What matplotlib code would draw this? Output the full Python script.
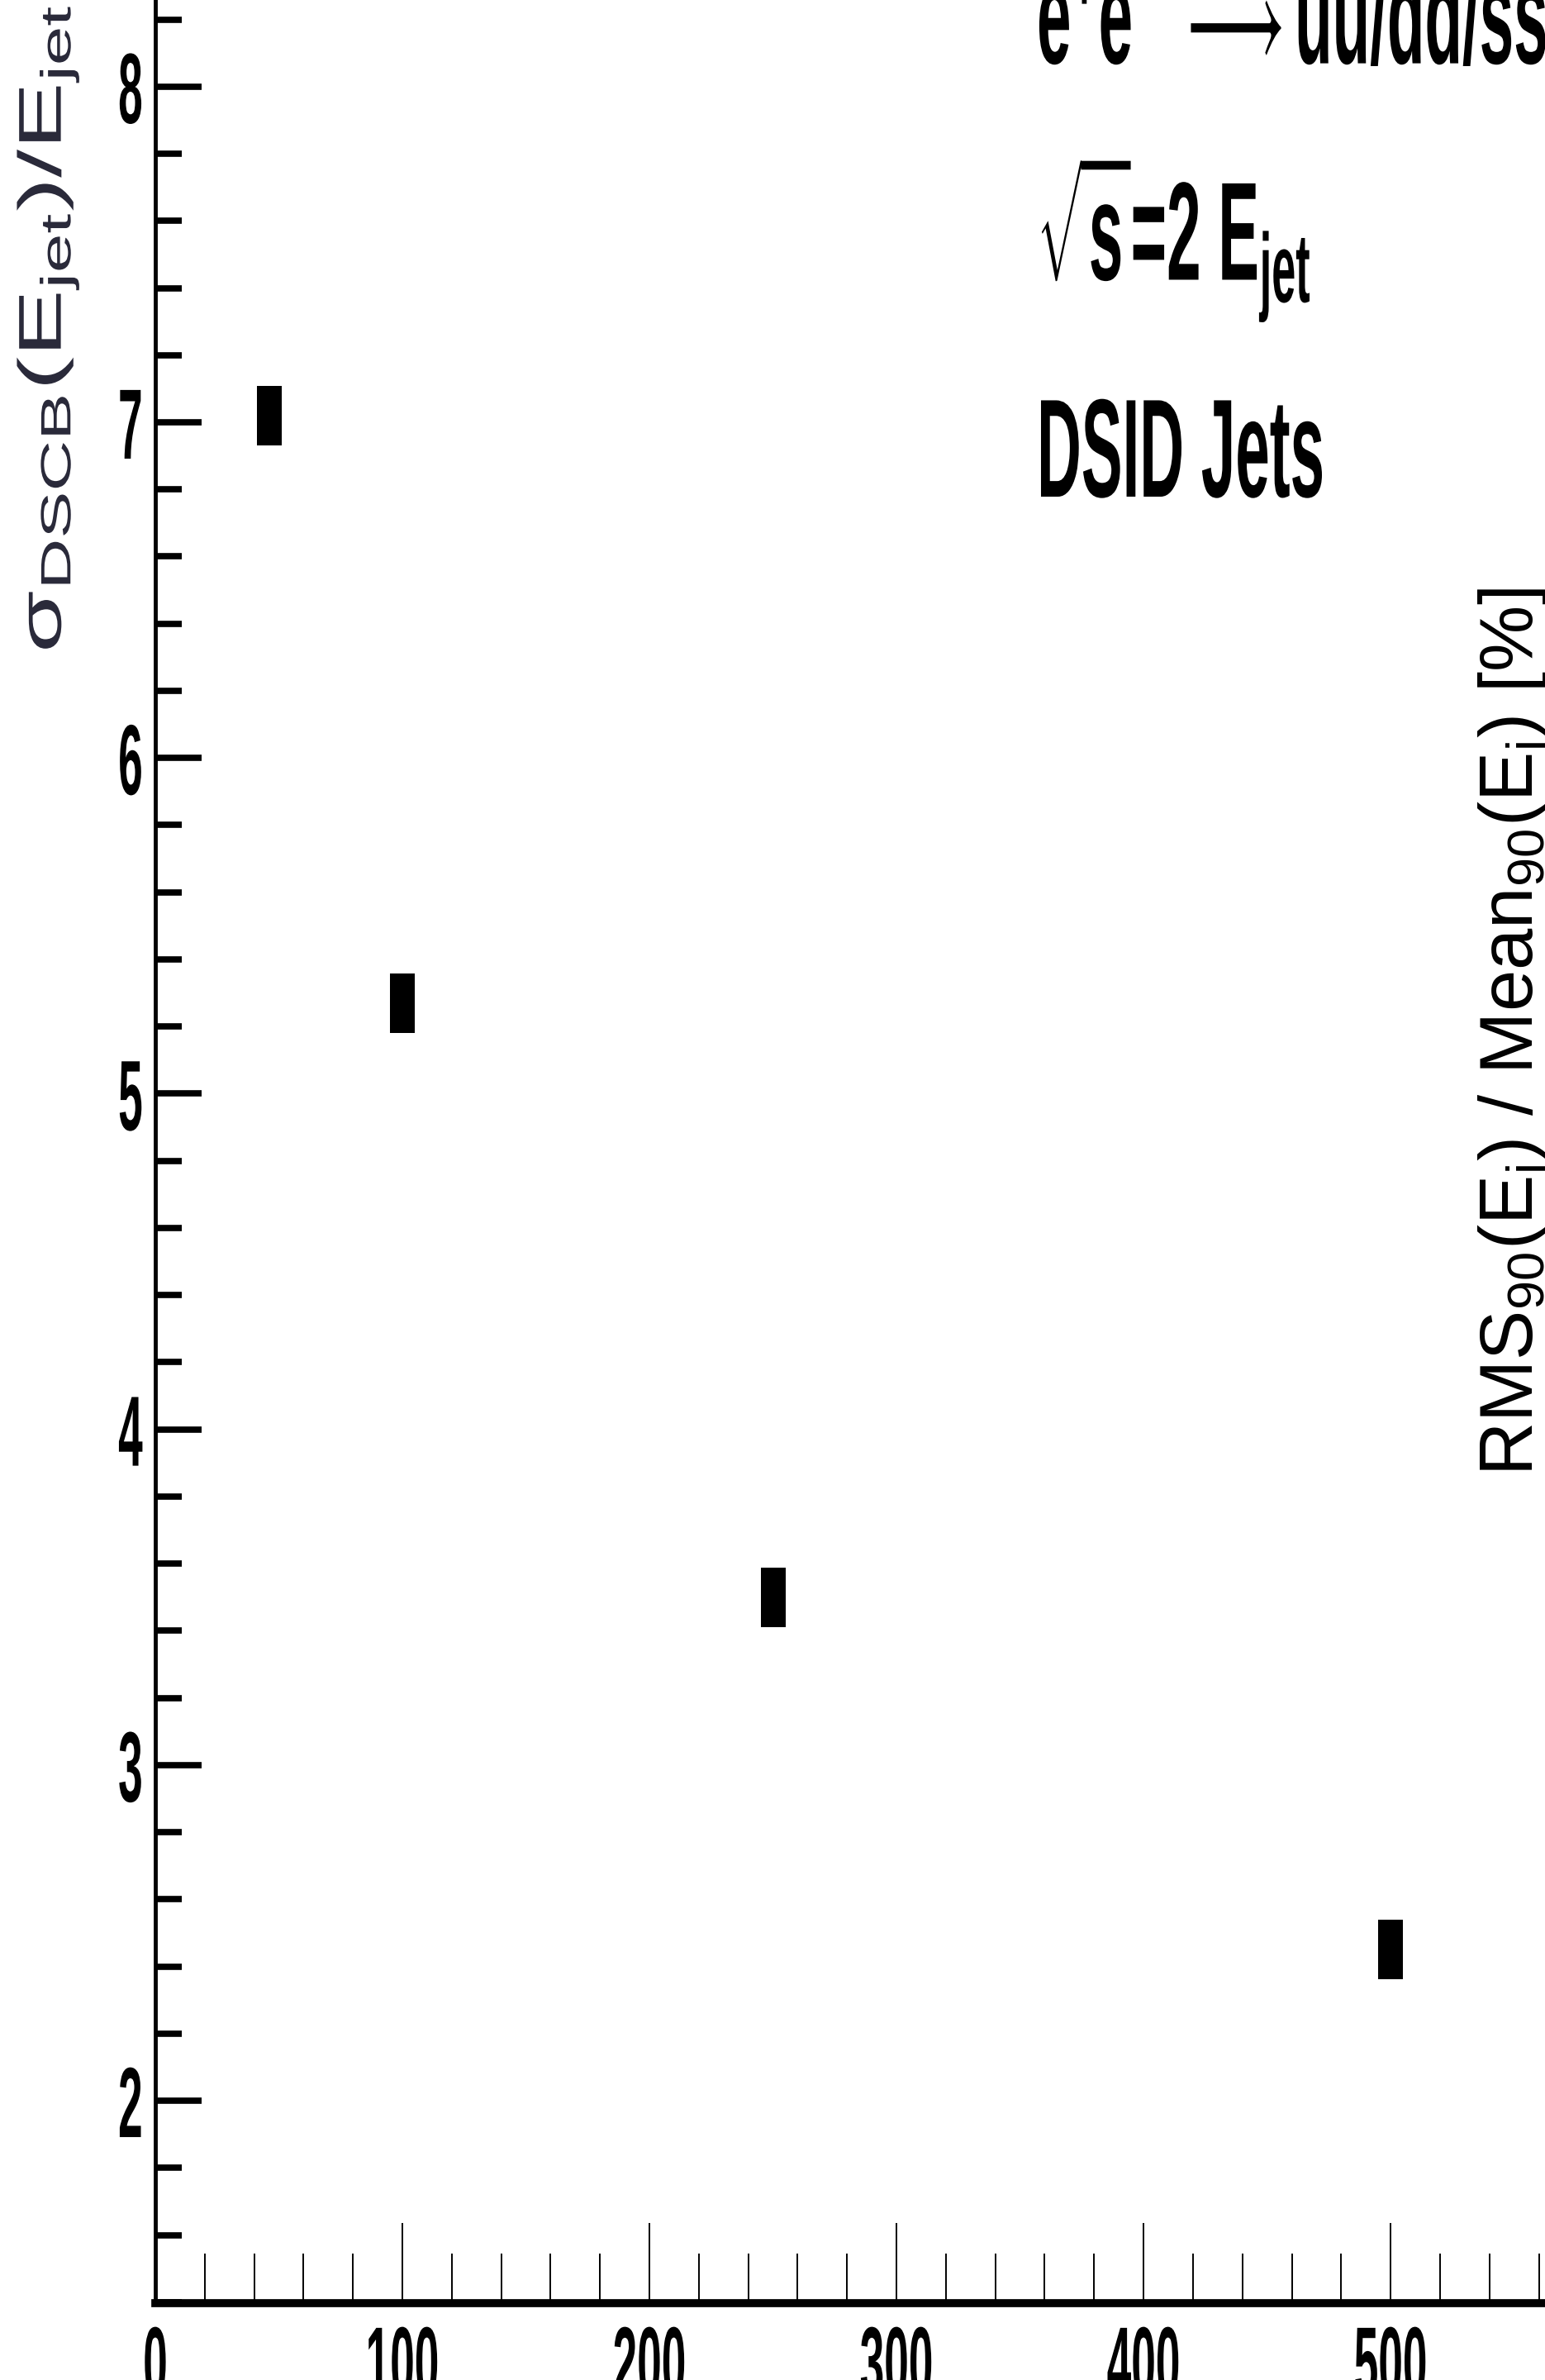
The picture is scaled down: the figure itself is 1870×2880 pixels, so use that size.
import matplotlib
matplotlib.use("Agg")
import matplotlib.pyplot as plt
from matplotlib.path import Path
from matplotlib.patheffects import AbstractPathEffect
from matplotlib.ticker import MultipleLocator
from matplotlib.transforms import Affine2D

# jet energy vs. relative resolution
e_jet = [46, 100, 250, 500]
resolution = [7.02, 5.27, 3.50, 2.45]

x_ticks = [0, 100, 200, 300, 400, 500]
y_ticks = [2, 3, 4, 5, 6, 7, 8]

ylabel = r"$\sigma_{\mathrm{DSCB}}$(E$_{\mathrm{jet}}$)/E$_{\mathrm{jet}}$ [%]"
ylabel_right = r"RMS$_{90}$(E$_{\mathrm{j}}$) / Mean$_{90}$(E$_{\mathrm{j}}$) [%]"
info_lines = [r"e$^{+}$e$^{-}$ $\longrightarrow$u$\bar{\mathbf{u}}$/d$\bar{\mathbf{d}}$/s$\bar{\mathbf{s}}$",
              r"$\sqrt{\mathbf{s}}$=2 E$_{\mathbf{jet}}$",
              "DSID Jets"]

plt.rcParams['font.family'] = ['Liberation Sans', 'DejaVu Sans']
plt.rcParams['mathtext.fontset'] = 'custom'
plt.rcParams['mathtext.rm'] = 'Liberation Sans'
plt.rcParams['mathtext.it'] = 'Liberation Sans:italic'
plt.rcParams['mathtext.bf'] = 'Liberation Sans:bold'
plt.rcParams['mathtext.default'] = 'regular'

W, H = 1870, 2880
SX = 0.44  # the left panel is squashed horizontally


class Squeeze(AbstractPathEffect):
    """Compress a text horizontally around its anchor point."""

    def __init__(self, text, sx):
        super().__init__()
        self.text = text
        self.sx = sx

    def draw_path(self, renderer, gc, tpath, affine, rgbFace=None):
        x0 = self.text.get_transform().transform(self.text.get_position())[0]
        squash = Affine2D().translate(-x0, 0).scale(self.sx, 1).translate(x0, 0)
        renderer.draw_path(gc, tpath, affine + squash, rgbFace)


def squeeze(text, sx=SX):
    text.set_path_effects([Squeeze(text, sx)])


def fpos(x, y):
    # pixel coords (from top-left) -> figure fraction
    return x / W, 1 - y / H


fig = plt.figure(figsize=(W / 100, H / 100), dpi=100)
x0, y0 = 188, 2787
ax = fig.add_axes([x0 / W, (H - y0) / H, 1 - x0 / W, y0 / H])

marker = Path([(-15, -36), (15, -36), (15, 36), (-15, 36), (-15, -36)],
              [Path.MOVETO, Path.LINETO, Path.LINETO, Path.LINETO, Path.CLOSEPOLY])
ax.plot(e_jet, resolution, linestyle='none', marker=marker, markersize=52,
        color='black', markeredgewidth=0)

ax.set_xlim(0, 562.5)
ax.set_ylim(1.397, 8.258)
ax.set_xticks(x_ticks)
ax.set_yticks(y_ticks)
ax.xaxis.set_minor_locator(MultipleLocator(20))
ax.yaxis.set_minor_locator(MultipleLocator(0.2))

ax.spines['top'].set_visible(False)
ax.spines['right'].set_visible(False)
ax.spines['left'].set_linewidth(3.5)
ax.spines['bottom'].set_linewidth(7)

ax.tick_params(axis='x', which='major', direction='in', length=70, width=1.4,
               pad=18, labelsize=87)
ax.tick_params(axis='x', which='minor', direction='in', length=43, width=1.4)
ax.tick_params(axis='y', which='major', direction='in', length=40, width=5.5,
               pad=11, labelsize=87)
ax.tick_params(axis='y', which='minor', direction='in', length=23, width=5.5)

for lab in ax.get_xticklabels() + ax.get_yticklabels():
    lab.set_fontweight('bold')
    squeeze(lab)

t = fig.text(*fpos(74, 790), ylabel, rotation=90, rotation_mode='anchor',
             ha='left', va='baseline', fontsize=88, color='#2a2a3a')
squeeze(t, 0.6)

for line, base in zip(info_lines, [78, 340, 601]):
    t = fig.text(*fpos(1255, base), line, ha='left', va='baseline',
                 fontsize=122, fontweight='bold')
    squeeze(t)

fig.text(*fpos(1856, 1786), ylabel_right, rotation=90, rotation_mode='anchor',
         ha='left', va='baseline', fontsize=65)

fig.savefig('out.png', dpi=100)
